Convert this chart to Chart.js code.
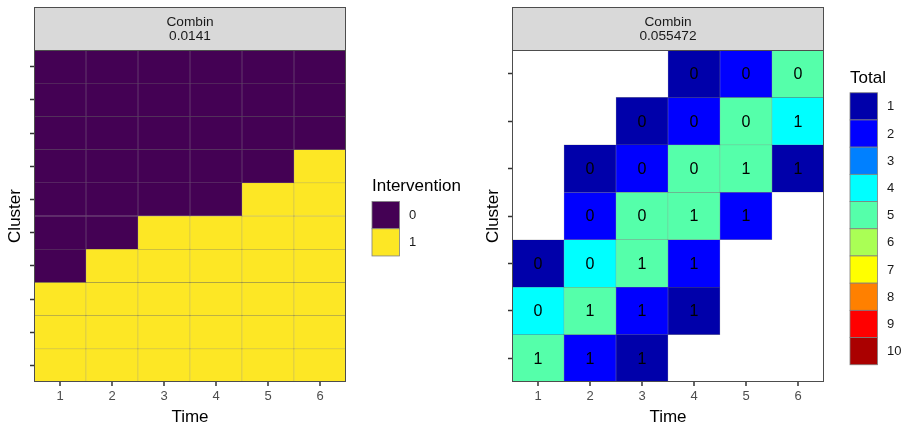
<!DOCTYPE html>
<html>
<head>
<meta charset="utf-8">
<script src="https://cdn.jsdelivr.net/npm/chart.js@4"></script>
<style>
body { margin: 0; background: #fff; }
#wrap { position: relative; width: 907px; height: 429px; }
canvas { position: absolute; top: 0; }
#left { left: 0; }
#right { left: 478px; }
</style>
</head>
<body>
<div id="wrap">
<canvas id="left" width="478" height="429"></canvas>
<canvas id="right" width="429" height="429"></canvas>
</div>
<script>
// chart data
const times = ['1', '2', '3', '4', '5', '6'];
const stripName = 'Combin';
const leftValue = '0.0141';
const rightValue = '0.055472';

// left panel: intervention status per cluster (top row first) and time
const leftClusters = [1, 2, 3, 4, 5, 6, 7, 8, 9, 10];
const intervention = [
    [0, 0, 0, 0, 0, 0],
    [0, 0, 0, 0, 0, 0],
    [0, 0, 0, 0, 0, 0],
    [0, 0, 0, 0, 0, 1],
    [0, 0, 0, 0, 1, 1],
    [0, 0, 1, 1, 1, 1],
    [0, 1, 1, 1, 1, 1],
    [1, 1, 1, 1, 1, 1],
    [1, 1, 1, 1, 1, 1],
    [1, 1, 1, 1, 1, 1]
];
const interventionLevels = ['0', '1'];
const interventionColors = ['#440154', '#FDE725'];

// right panel: totals (fill) and intervention (text), null = empty cell
const rightClusters = [1, 2, 3, 4, 5, 6, 7];
const totals = [
    [null, null, null, 1, 2, 5],
    [null, null, 1, 2, 5, 4],
    [null, 1, 2, 5, 5, 1],
    [null, 2, 5, 5, 2, null],
    [1, 4, 5, 2, null, null],
    [4, 5, 2, 1, null, null],
    [5, 2, 1, null, null, null]
];
const rightIntervention = [
    [null, null, null, 0, 0, 0],
    [null, null, 0, 0, 0, 1],
    [null, 0, 0, 0, 1, 1],
    [null, 0, 0, 1, 1, null],
    [0, 0, 1, 1, null, null],
    [0, 1, 1, 1, null, null],
    [1, 1, 1, null, null, null]
];
const totalLevels = ['1', '2', '3', '4', '5', '6', '7', '8', '9', '10'];
const totalColors = ['#0000AA', '#0000FF', '#0080FF', '#00FFFF', '#55FFAA',
    '#AAFF55', '#FFFF00', '#FF8000', '#FF0000', '#AA0000'];

const FONT = "'Liberation Sans', Arial, sans-serif";
Chart.defaults.font.family = FONT;

// strip, frame, x tick marks, legend and cell labels
const panelDecor = {
    id: 'panelDecor',
    afterDatasetsDraw(chart, args, opts) {
        if (!opts.text) return;
        const ctx = chart.ctx;
        const xs = chart.scales.x;
        const ys = chart.scales.y;
        ctx.save();
        ctx.fillStyle = '#000';
        ctx.font = `16px ${FONT}`;
        ctx.textAlign = 'center';
        ctx.textBaseline = 'middle';
        opts.text.forEach((row, i) => {
            row.forEach((v, j) => {
                if (v === null) return;
                ctx.fillText(String(v), xs.getPixelForValue(j), ys.getPixelForValue(opts.clusters[i]) + 1);
            });
        });
        ctx.restore();
    },
    afterDraw(chart, args, opts) {
        const ctx = chart.ctx;
        const a = chart.chartArea;
        const xs = chart.scales.x;
        ctx.save();
        // strip
        ctx.fillStyle = '#D9D9D9';
        ctx.fillRect(a.left, 7, a.right - a.left, a.top - 7);
        ctx.strokeStyle = '#4D4D4D';
        ctx.lineWidth = 1;
        ctx.strokeRect(a.left + 0.5, 7.5, a.right - a.left - 1, a.top - 7);
        ctx.strokeRect(a.left + 0.5, a.top + 0.5, a.right - a.left - 1, a.bottom - a.top - 1);
        ctx.fillStyle = '#1A1A1A';
        ctx.font = `13.7px ${FONT}`;
        ctx.textAlign = 'center';
        ctx.textBaseline = 'middle';
        const cx = (a.left + a.right) / 2;
        ctx.fillText(stripName, cx, 22);
        ctx.fillText(opts.value, cx, 36);

        // x tick marks at category centres
        ctx.strokeStyle = '#333333';
        ctx.lineWidth = 1.5;
        times.forEach((t, j) => {
            const px = Math.round(xs.getPixelForValue(j));
            ctx.beginPath();
            ctx.moveTo(px, a.bottom);
            ctx.lineTo(px, a.bottom + 4);
            ctx.stroke();
        });

        // legend
        const keyW = 27.5, keyH = 27.2;
        const blockH = 22.5 + opts.levels.length * keyH;
        const top = 217.5 - blockH / 2;
        const lx = a.right + 26;
        ctx.textAlign = 'left';
        ctx.textBaseline = 'alphabetic';
        ctx.fillStyle = '#000';
        ctx.font = `17px ${FONT}`;
        ctx.fillText(opts.title, lx, top + 12.4);
        ctx.font = `13px ${FONT}`;
        ctx.textBaseline = 'middle';
        opts.levels.forEach((lab, k) => {
            const y = top + 22.5 + k * keyH;
            ctx.fillStyle = opts.colors[k];
            ctx.fillRect(lx, y, keyW, keyH);
            ctx.strokeStyle = '#7F7F7F';
            ctx.lineWidth = 0.8;
            ctx.strokeRect(lx, y, keyW, keyH);
            ctx.fillStyle = '#1A1A1A';
            ctx.fillText(lab, lx + 37, y + keyH / 2 + 0.5);
        });
        ctx.restore();
    }
};

function makeHeatmap(canvasId, clusters, fills, colorOf, padRight, decor) {
    const datasets = clusters.map((c, i) => ({
        data: fills[i].map((v) => (v === null ? null : [c - 0.5, c + 0.5])),
        backgroundColor: fills[i].map((v) => (v === null ? 'rgba(0,0,0,0)' : colorOf(v))),
        borderColor: 'rgba(0,0,0,0.4)',
        borderWidth: 0.5,
        borderSkipped: false,
        barPercentage: 1,
        categoryPercentage: 1,
        grouped: false
    }));

    return new Chart(document.getElementById(canvasId).getContext('2d'), {
        type: 'bar',
        data: { labels: times, datasets: datasets },
        options: {
            responsive: false,
            animation: false,
            devicePixelRatio: 1,
            layout: { padding: { top: 50, right: padRight, left: 0, bottom: 0 } },
            plugins: {
                legend: { display: false },
                tooltip: { enabled: false },
                panelDecor: decor
            },
            scales: {
                x: {
                    type: 'category',
                    offset: true,
                    grid: { display: false, drawTicks: false },
                    border: { display: false },
                    ticks: { color: '#4D4D4D', font: { size: 13 }, padding: 7, maxRotation: 0 },
                    title: { display: true, text: 'Time', color: '#000', font: { size: 17 }, padding: { top: 4, bottom: 1.5 } },
                    afterFit(scale) { scale.height = 47; }
                },
                y: {
                    type: 'linear',
                    reverse: true,
                    min: 0.5,
                    max: clusters.length + 0.5,
                    grid: { display: true, drawOnChartArea: false, tickLength: 4, tickColor: '#333333', tickWidth: 1.5 },
                    border: { display: false },
                    ticks: { callback: () => '' },
                    title: { display: true, text: 'Cluster', color: '#000', font: { size: 17 }, padding: { top: 5, bottom: 4 } },
                    afterBuildTicks(scale) { scale.ticks = clusters.map((c) => ({ value: c })); },
                    afterFit(scale) { scale.width = 34; }
                }
            }
        },
        plugins: [panelDecor]
    });
}

makeHeatmap('left', leftClusters, intervention, (v) => interventionColors[v], 132, {
    value: leftValue,
    title: 'Intervention',
    levels: interventionLevels,
    colors: interventionColors
});

makeHeatmap('right', rightClusters, totals, (v) => totalColors[v - 1], 83, {
    value: rightValue,
    title: 'Total',
    levels: totalLevels,
    colors: totalColors,
    text: rightIntervention,
    clusters: rightClusters
});
</script>
</body>
</html>
